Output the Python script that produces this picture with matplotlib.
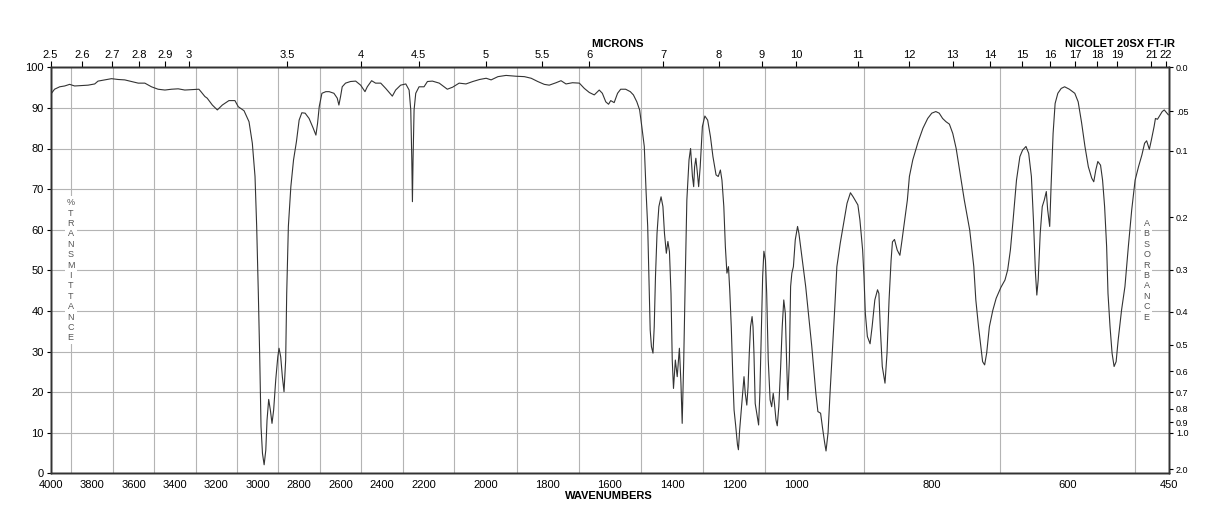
import numpy as np
import matplotlib
matplotlib.use("Agg")
import matplotlib.pyplot as plt

plt.rcParams['font.family'] = ['Liberation Sans', 'DejaVu Sans']

# spectrum (cm-1, %T)
wavenumbers = [
    4000, 3981, 3956, 3932, 3908, 3884, 3852, 3819, 3787, 3771, 3739, 3706, 3674, 3642,
    3610, 3577, 3545, 3513, 3481, 3448, 3416, 3384, 3352, 3319, 3284, 3274, 3255, 3244,
    3219, 3195, 3171, 3139, 3110, 3094, 3066, 3042, 3026, 3013, 3005, 2997, 2990, 2984,
    2977, 2969, 2961, 2955, 2947, 2939, 2931, 2923, 2913, 2903, 2897, 2889, 2881, 2873,
    2865, 2860, 2852, 2840, 2827, 2813, 2800, 2787, 2771, 2752, 2732, 2719, 2711, 2703,
    2690, 2671, 2655, 2632, 2616, 2608, 2600, 2592, 2576, 2552, 2527, 2503, 2482, 2471,
    2450, 2431, 2406, 2382, 2350, 2334, 2310, 2285, 2269, 2261, 2256, 2253, 2250, 2245,
    2237, 2221, 2198, 2187, 2171, 2149, 2123, 2106, 2085, 2063, 2041, 2019, 1998, 1982,
    1960, 1934, 1902, 1875, 1853, 1832, 1811, 1795, 1773, 1757, 1741, 1720, 1698, 1682,
    1666, 1650, 1634, 1624, 1613, 1604, 1597, 1586, 1575, 1565, 1549, 1534, 1524, 1513,
    1504, 1497, 1489, 1483, 1478, 1474, 1470, 1466, 1461, 1457, 1453, 1448, 1442, 1435,
    1429, 1424, 1418, 1413, 1408, 1403, 1399, 1395, 1389, 1383, 1376, 1371, 1367, 1362,
    1357, 1352, 1345, 1340, 1334, 1330, 1327, 1323, 1318, 1314, 1309, 1302, 1294, 1285,
    1276, 1268, 1258, 1251, 1244, 1239, 1233, 1228, 1223, 1218, 1214, 1209, 1204, 1200,
    1195, 1189, 1186, 1182, 1176, 1172, 1168, 1164, 1159, 1155, 1151, 1147, 1142, 1139,
    1136, 1132, 1125, 1121, 1117, 1112, 1108, 1104, 1099, 1095, 1090, 1084, 1079, 1074,
    1070, 1065, 1061, 1056, 1050, 1045, 1040, 1035, 1031, 1027, 1022, 1018, 1014, 1009,
    1003, 998, 996, 991, 986, 982, 977, 971, 968, 964, 961, 958, 956, 953, 950, 946,
    943, 940, 935, 930, 925, 920, 916, 909, 906, 902, 900, 898, 895, 891, 888, 884,
    880, 878, 876, 873, 869, 866, 863, 860, 858, 855, 851, 847, 844, 840, 836, 833,
    828, 820, 813, 806, 800, 794, 789, 784, 779, 774, 769, 764, 759, 752, 744, 738,
    735, 731, 727, 725, 722, 719, 715, 710, 705, 698, 692, 688, 684, 680, 675, 670,
    666, 661, 657, 653, 650, 647, 645, 643, 640, 637, 634, 631, 629, 626, 624, 621,
    618, 614, 609, 604, 597, 589, 584, 579, 574, 569, 564, 561, 558, 555, 551, 548,
    545, 542, 540, 537, 534, 531, 528, 525, 520, 515, 510, 505, 500, 495, 490, 486,
    483, 479, 476, 472, 470, 467, 463, 460, 457, 453, 451,
]
transmittance = [
    93.3, 94.6, 95.2, 95.4, 95.8, 95.4, 95.5, 95.6, 95.9, 96.6, 96.9, 97.2, 97.0, 96.9,
    96.5, 96.1, 96.1, 95.2, 94.6, 94.4, 94.6, 94.7, 94.4, 94.5, 94.6, 94.0, 92.8, 92.4,
    90.7, 89.5, 90.7, 91.8, 91.8, 90.3, 89.3, 86.6, 81.3, 73.1, 60.8, 44.3, 27.9, 11.5,
    4.9, 2.1, 5.7, 13.1, 18.2, 15.6, 12.3, 15.6, 23.0, 28.7, 30.8, 28.7, 23.8, 20.1,
    27.9, 44.3, 60.8, 70.6, 77.2, 81.7, 87.0, 88.8, 88.7, 87.4, 85.0, 83.3, 86.2, 90.3,
    93.6, 94.0, 94.0, 93.6, 92.4, 90.7, 92.8, 95.2, 96.1, 96.5, 96.6, 95.6, 94.0, 95.2,
    96.7, 96.1, 96.1, 94.8, 92.9, 94.4, 95.6, 95.9, 94.4, 89.5, 77.2, 66.9, 77.2, 89.5,
    93.6, 95.2, 95.2, 96.5, 96.6, 96.1, 94.6, 95.1, 96.1, 95.9, 96.5, 97.0, 97.3, 96.9,
    97.7, 98.0, 97.8, 97.7, 97.3, 96.5, 95.8, 95.6, 96.2, 96.7, 95.9, 96.2, 96.1, 94.8,
    93.8, 93.2, 94.4, 93.6, 91.5, 90.9, 91.8, 91.3, 93.6, 94.6, 94.6, 94.0, 93.2, 91.5,
    89.5, 85.4, 80.5, 69.0, 60.8, 48.4, 35.3, 31.2, 29.6, 36.1, 48.4, 59.1, 65.7, 68.1,
    65.7, 59.1, 54.2, 57.1, 54.6, 44.3, 27.9, 20.9, 27.9, 23.8, 30.8, 22.2, 12.3, 27.9,
    48.4, 67.3, 77.2, 80.0, 73.1, 70.6, 75.5, 77.6, 73.9, 70.6, 75.5, 85.4, 88.0, 87.0,
    82.9, 78.0, 73.5, 73.1, 74.7, 72.2, 65.7, 55.8, 49.3, 50.9, 45.2, 36.1, 23.8, 15.6,
    11.9, 7.0, 5.8, 10.7, 16.4, 20.5, 23.8, 19.7, 16.8, 21.3, 29.6, 36.1, 38.6, 36.1,
    29.6, 17.2, 13.9, 11.9, 19.7, 36.1, 48.4, 54.7, 52.5, 44.3, 27.9, 18.1, 16.4, 19.7,
    17.2, 13.1, 11.7, 16.4, 26.3, 36.1, 42.7, 39.4, 27.9, 18.1, 27.9, 46.0, 49.3, 50.9,
    57.5, 60.8, 59.1, 52.5, 46.0, 39.4, 31.2, 19.7, 15.2, 14.8, 11.0, 7.5, 5.5, 10.0, 20.0, 32.0,
    41.1, 50.9, 56.7, 61.6, 66.5, 69.1, 68.1, 66.1, 62.4, 55.0, 48.4, 39.4, 33.7, 31.9, 36.1, 42.7,
    45.2, 44.3, 36.1, 26.3, 22.2, 29.6, 42.7, 52.5, 57.0, 57.6, 55.0, 53.7, 57.3, 62.4, 67.3, 73.1,
    77.2, 81.7, 85.0, 87.4, 88.7, 89.1, 88.7, 87.4, 86.6, 86.0, 83.7, 80.0, 74.7, 67.3, 59.9, 50.9,
    42.7, 36.1, 30.4, 27.5, 26.7, 29.6, 36.1, 40.1, 43.1, 45.8, 47.6, 50.1, 55.0, 62.4, 72.2, 78.0,
    79.6, 80.5, 78.8, 73.1, 62.4, 49.3, 43.9, 47.6, 59.1, 65.7, 67.3, 69.4, 64.9, 60.8, 70.6, 83.7,
    91.1, 93.6, 94.8, 95.2, 94.6, 93.6, 91.5, 86.4, 80.5, 75.5, 72.7, 71.8, 74.7, 76.8, 75.9, 72.2,
    65.7, 55.8, 44.3, 36.1, 29.6, 26.3, 27.5, 32.8, 40.2, 46.0, 55.8, 64.9, 72.2, 75.5, 78.4, 81.3,
    81.9, 79.8, 82.1, 85.4, 87.4, 87.2, 88.3, 89.1, 89.5, 88.7, 88.3,
]

wavenumber_ticks = [4000, 3800, 3600, 3400, 3200, 3000, 2800, 2600, 2400, 2200,
                    2000, 1800, 1600, 1400, 1200, 1000, 800, 600, 450]
micron_ticks = [2.5, 2.6, 2.7, 2.8, 2.9, 3, 3.5, 4, 4.5, 5, 5.5, 6, 7, 8, 9, 10,
                11, 12, 13, 14, 15, 16, 17, 18, 19, 21, 22]
micron_labels = ["2.5", "2.6", "2.7", "2.8", "2.9", "3", "3.5", "4", "4.5", "5", "5.5", "6",
                 "7", "8", "9", "10", "11", "12", "13", "14", "15", "16", "17", "18", "19",
                 "21", "22"]
absorbance_ticks = [0.0, 0.05, 0.1, 0.2, 0.3, 0.4, 0.5, 0.6, 0.7, 0.8, 0.9, 1.0, 2.0]
absorbance_labels = ["0.0", ".05", "0.1", "0.2", "0.3", "0.4", "0.5", "0.6", "0.7",
                     "0.8", "0.9", "1.0", "2.0"]

# chart paper: three equal-width sections 4000-2200, 2200-1000, 1000-450
breaks_w = [450, 1000, 2200, 4000]
breaks_x = [0, 1, 2, 3]


def fwd(w):
    return np.interp(w, breaks_w, breaks_x)


def inv(x):
    return np.interp(x, breaks_x, breaks_w)


fig = plt.figure(figsize=(12.18, 5.28), dpi=100)
ax = fig.add_axes([50.6 / 1218, 1 - 473.3 / 528, (1169 - 50.6) / 1218, (473.3 - 67.3) / 528])
ax.set_xscale('function', functions=(fwd, inv))
ax.set_xlim(4000, 450)
ax.set_ylim(0, 100)

ax.plot(wavenumbers, transmittance, color='#333333', lw=0.8, zorder=2)

ax.set_xticks(wavenumber_ticks)
ax.set_xticklabels([str(t) for t in wavenumber_ticks])
ax.set_xticks(np.arange(500, 4000, 100), minor=True)
ax.set_yticks(range(0, 101, 10))
ax.grid(which='minor', axis='x', color='#b4b4b4', lw=0.8)
ax.grid(which='major', axis='y', color='#b4b4b4', lw=0.8)
ax.tick_params(axis='x', which='both', length=0, labelsize=8, pad=5)
ax.tick_params(axis='y', length=3, labelsize=8, pad=2)

ax_t = ax.twiny()
ax_t.set_xscale('function', functions=(fwd, inv))
ax_t.set_xlim(4000, 450)
ax_t.set_xticks([10000 / m for m in micron_ticks])
ax_t.set_xticklabels(micron_labels)
ax_t.tick_params(axis='x', length=4, labelsize=8, pad=1)

ax_r = ax.twinx()
ax_r.set_ylim(0, 100)
ax_r.set_yticks([100 * 10 ** (-a) for a in absorbance_ticks])
ax_r.set_yticklabels(absorbance_labels)
ax_r.tick_params(axis='y', length=3, labelsize=6.5, pad=2)

for a in (ax, ax_t, ax_r):
    for s in a.spines.values():
        s.set_linewidth(1.0)
        s.set_color('#333333')

ax.text(0.018, 0.5, "\n".join("%TRANSMITTANCE"), transform=ax.transAxes,
        ha='center', va='center', fontsize=6.5, color='#555555', linespacing=1.2,
        bbox=dict(fc='white', ec='none', pad=1.5), zorder=3)
ax.text(0.980, 0.5, "\n".join("ABSORBANCE"), transform=ax.transAxes,
        ha='center', va='center', fontsize=6.5, color='#555555', linespacing=1.2,
        bbox=dict(fc='white', ec='none', pad=1.5), zorder=3)

fig.text(617 / 1218, 1 - 44 / 528, "MICRONS", ha='center', va='center',
         fontsize=8, fontweight='bold')
fig.text(1120 / 1218, 1 - 44 / 528, "NICOLET 20SX FT-IR", ha='center', va='center',
         fontsize=8, fontweight='bold')
fig.text(609 / 1218, 1 - 496 / 528, "WAVENUMBERS", ha='center', va='center',
         fontsize=8, fontweight='bold')

fig.savefig('out.png', dpi=100)
